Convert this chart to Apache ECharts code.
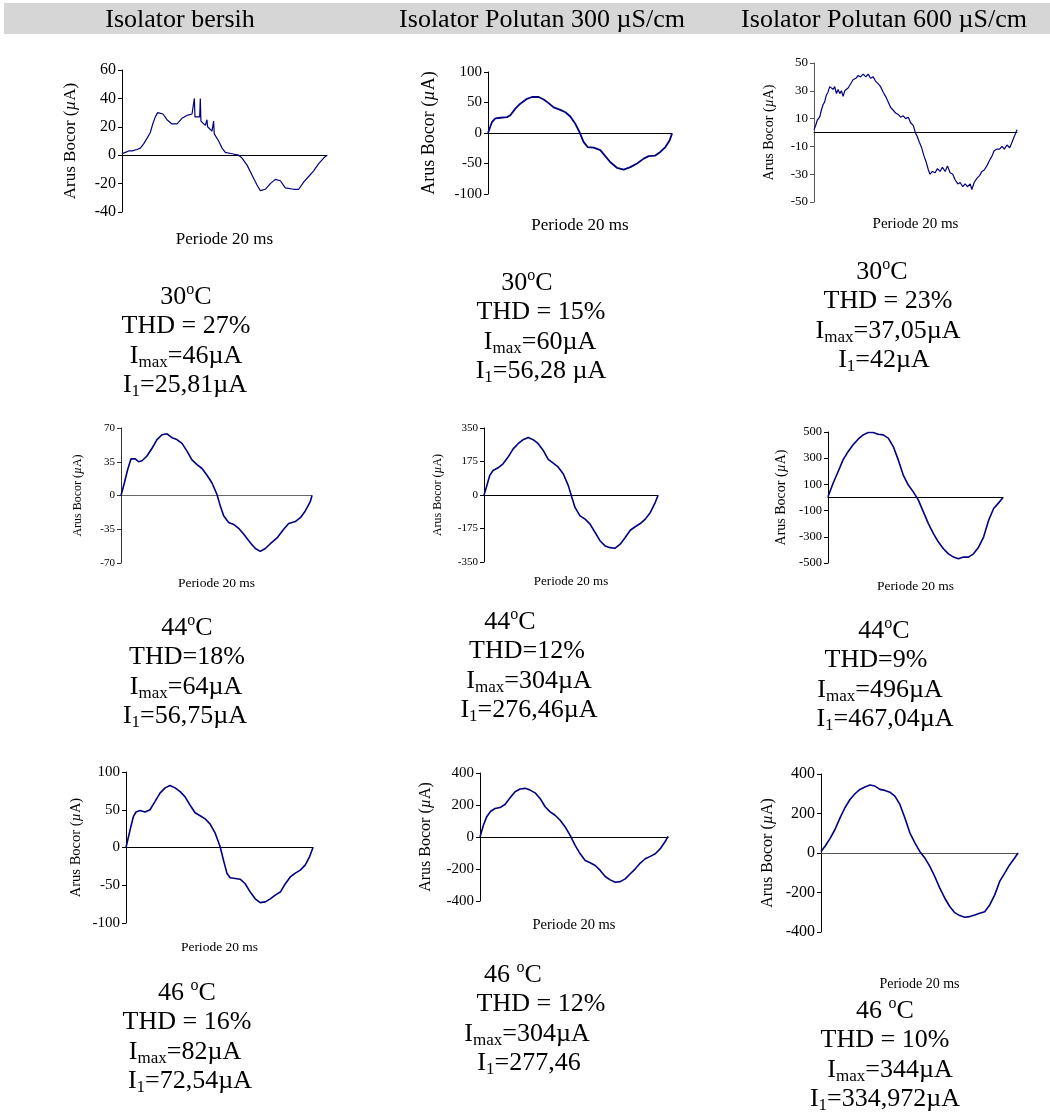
<!DOCTYPE html>
<html>
<head>
<meta charset="utf-8">
<script src="https://cdn.jsdelivr.net/npm/echarts@6/dist/echarts.min.js"></script>
<style>
  html, body { margin: 0; padding: 0; background: #fff; }
  #main { width: 1050px; height: 1115px; }
</style>
</head>
<body>
<div id="main"></div>
<script>
// teks
var FONT = 'Liberation Serif';
var headers = ['Isolator bersih', 'Isolator Polutan 300 µS/cm', 'Isolator Polutan 600 µS/cm'];
var yName = 'Arus Bocor ({i|µ}A)';
var xName = 'Periode 20 ms';

// isolator bersih 30C
var t1 = [0, 0.33, 0.65, 1.0, 1.46, 1.79, 2.11, 2.45, 2.76, 3.0, 3.25, 3.48, 4.0, 4.39, 4.88, 5.37, 5.85, 6.34, 6.83, 7.0, 7.06, 7.12, 7.58, 7.64, 7.7, 8.13, 8.29, 8.35, 8.78, 8.94, 9.0, 9.43, 9.76, 10.08, 10.73, 11.38, 11.71, 12.2, 12.68, 13.17, 13.5, 13.98, 14.47, 14.96, 15.45, 15.93, 16.75, 17.24, 17.72, 18.21, 18.7, 19.19, 19.67, 20];
var v1 = [1, 2, 3, 3, 4, 5, 8, 12, 16, 22, 27, 30, 29, 25, 22, 22, 26, 28, 29, 28, 40, 27, 27, 40, 24, 21, 25, 20, 17, 24, 15, 10, 5, 2, 1, 0, -2, -7, -14, -21, -25, -24, -20, -17, -18, -23, -24, -24, -19, -15, -11, -6, -2, 0];
var ticks1 = [-40, -20, 0, 20, 40, 60];

// polutan 300 30C
var t2 = [0, 0.43, 0.8, 1.34, 2.07, 2.43, 2.97, 3.51, 4.24, 4.78, 5.51, 6.05, 6.59, 7.14, 7.86, 8.41, 8.95, 9.49, 9.93, 10.4, 10.83, 11.49, 12.21, 12.75, 13.3, 14.02, 14.75, 15.47, 16.2, 16.92, 17.46, 18.19, 18.73, 19.28, 19.75, 20];
var v2 = [0, 18, 24, 25, 26, 29, 40, 48, 56, 59, 59, 55, 49, 42, 38, 34, 27, 15, 2, -15, -23, -24, -28, -38, -48, -57, -60, -56, -50, -42, -38, -37, -31, -23, -12, -1];
var ticks2 = [-100, -50, 0, 50, 100];

// polutan 600 30C
var t3 = [0, 0.16, 0.33, 0.56, 0.72, 0.89, 1.05, 1.22, 1.38, 1.55, 1.71, 1.88, 2.04, 2.21, 2.37, 2.54, 2.7, 2.87, 3.03, 3.2, 3.36, 3.53, 3.69, 3.85, 4.12, 4.35, 4.58, 4.84, 5.11, 5.34, 5.57, 5.83, 6.06, 6.33, 6.56, 6.82, 7.05, 7.31, 7.55, 7.81, 8.04, 8.3, 8.53, 8.8, 9.03, 9.29, 9.52, 9.79, 9.98, 10.18, 10.38, 10.61, 10.84, 11.04, 11.27, 11.43, 11.66, 11.93, 12.16, 12.42, 12.65, 12.92, 13.15, 13.41, 13.67, 13.9, 14.17, 14.4, 14.66, 14.89, 15.12, 15.39, 15.55, 15.78, 16.05, 16.31, 16.54, 16.77, 17.03, 17.3, 17.53, 17.76, 18.02, 18.29, 18.52, 18.75, 19.01, 19.28, 19.51, 19.67, 19.84, 20];
var v3 = [2, 5, 9, 11, 16, 20, 22, 27, 29, 33, 34, 31, 33, 28, 31, 28, 30, 26, 30, 29, 32, 33, 36, 38, 39, 41, 40, 42, 40, 42, 39, 40, 37, 35, 33, 29, 26, 22, 18, 16, 14, 13, 11, 12, 10, 11, 7, 5, 0, -3, -7, -11, -17, -21, -27, -30, -28, -29, -26, -28, -25, -28, -24, -29, -30, -34, -37, -36, -39, -37, -39, -37, -41, -36, -33, -31, -28, -27, -24, -20, -17, -13, -12, -12, -10, -12, -9, -11, -7, -4, -1, 2];
var ticks3 = [-50, -30, -10, 10, 30, 50];

// isolator bersih 44C
var t4 = [0, 0.35, 0.7, 1.05, 1.5, 1.85, 2.2, 2.72, 3.25, 3.77, 4.29, 4.82, 5.34, 5.86, 6.39, 6.91, 7.43, 7.96, 8.48, 9.01, 9.53, 10.05, 10.4, 10.75, 11.27, 11.8, 12.32, 12.84, 13.54, 14.07, 14.59, 15.11, 15.64, 16.34, 17.03, 17.56, 18.25, 18.78, 19.3, 19.83, 20];
var v4 = [0, 13, 27, 38, 38, 35, 36, 41, 49, 58, 63, 64, 60, 58, 54, 46, 37, 32, 28, 21, 13, 1, -11, -21, -28, -30, -34, -40, -49, -55, -58, -55, -50, -44, -35, -29, -27, -23, -16, -6, 0];
var ticks4 = [-70, -35, 0, 35, 70];

// polutan 300 44C
var t5 = [0, 0.27, 0.65, 1.04, 1.62, 2.19, 2.77, 3.35, 3.92, 4.5, 5.08, 5.65, 6.23, 6.81, 7.38, 7.96, 8.54, 9.12, 9.69, 10.08, 10.46, 11.04, 11.62, 12.19, 12.77, 13.35, 13.92, 14.5, 15.08, 15.65, 16.23, 16.81, 17.38, 17.96, 18.54, 19.12, 19.69, 20];
var v5 = [0, 40, 101, 128, 142, 163, 198, 241, 268, 289, 300, 289, 268, 233, 186, 166, 145, 110, 49, -9, -65, -109, -126, -152, -196, -240, -266, -275, -278, -257, -222, -184, -166, -149, -126, -91, -38, -3];
var ticks5 = [-350, -175, 0, 175, 350];

// polutan 600 44C
var t6 = [0, 0.57, 1.15, 1.72, 2.29, 2.87, 3.44, 4.02, 4.59, 5.16, 5.74, 6.31, 6.88, 7.46, 8.03, 8.6, 9.18, 9.75, 10.33, 10.9, 11.47, 12.05, 12.62, 13.19, 13.77, 14.34, 14.91, 15.49, 16.06, 16.63, 17.21, 17.78, 18.36, 18.93, 19.5, 20];
var v6 = [5, 107, 197, 287, 350, 402, 445, 478, 496, 496, 483, 478, 453, 389, 287, 171, 95, 43, -20, -110, -199, -276, -340, -391, -430, -455, -468, -455, -455, -430, -379, -302, -174, -84, -41, 0];
var ticks6 = [-500, -300, -100, 100, 300, 500];

// isolator bersih 46C
var t7 = [0, 0.43, 0.79, 1.07, 1.5, 2.04, 2.57, 3.11, 3.64, 4.18, 4.71, 5.25, 5.79, 6.32, 6.86, 7.39, 7.93, 8.46, 9.0, 9.54, 10.07, 10.43, 10.79, 11.14, 11.68, 12.21, 12.75, 13.29, 13.82, 14.36, 14.89, 15.43, 15.96, 16.5, 17.04, 17.57, 18.11, 18.64, 19.18, 19.64, 20];
var v7 = [0, 23, 41, 47, 49, 47, 50, 61, 72, 79, 82, 79, 74, 67, 56, 46, 42, 38, 31, 19, 1, -17, -34, -40, -41, -42, -48, -59, -68, -73, -72, -68, -63, -59, -48, -39, -34, -30, -23, -12, 0];
var ticks7 = [-100, -50, 0, 50, 100];

// polutan 300 46C
var t8 = [0, 0.36, 0.71, 1.14, 1.6, 2.13, 2.66, 3.2, 3.73, 4.26, 4.8, 5.33, 5.86, 6.39, 6.93, 7.46, 7.99, 8.53, 9.06, 9.59, 10.12, 10.66, 11.19, 11.72, 12.26, 12.79, 13.32, 13.85, 14.39, 14.92, 15.45, 15.99, 16.52, 17.05, 17.58, 18.12, 18.65, 19.18, 19.72, 20];
var v8 = [0, 73, 126, 161, 178, 184, 203, 245, 283, 300, 304, 293, 276, 241, 189, 157, 136, 105, 63, 10, -52, -105, -147, -161, -178, -209, -247, -268, -283, -279, -262, -230, -199, -163, -136, -121, -105, -73, -27, 4];
var ticks8 = [-400, -200, 0, 200, 400];

// polutan 600 46C
var t9 = [0, 0.41, 0.91, 1.42, 1.93, 2.43, 2.94, 3.45, 3.95, 4.46, 4.97, 5.47, 5.98, 6.49, 6.99, 7.5, 8.01, 8.51, 9.02, 9.53, 10.03, 10.54, 11.05, 11.55, 12.06, 12.57, 13.07, 13.58, 14.09, 14.59, 15.1, 15.61, 16.11, 16.62, 17.13, 17.64, 18.14, 18.65, 19.16, 19.66, 20];
var v9 = [8, 34, 73, 119, 178, 229, 271, 300, 322, 334, 344, 339, 322, 317, 308, 288, 246, 178, 102, 51, 8, -25, -68, -119, -178, -229, -271, -302, -317, -325, -322, -314, -305, -297, -263, -212, -144, -102, -59, -25, 0];
var ticks9 = [-400, -200, 0, 200, 400];

// keterangan tiap grafik
var notes = [
  ['30{sup|o}C', 'THD = 27%', 'I{sub|max}=46µA', 'I{sub|1}=25,81µA'],
  ['30{sup|o}C', 'THD = 15%', 'I{sub|max}=60µA', 'I{sub|1}=56,28 µA'],
  ['30{sup|o}C', 'THD = 23%', 'I{sub|max}=37,05µA', 'I{sub|1}=42µA'],
  ['44{sup|o}C', 'THD=18%', 'I{sub|max}=64µA', 'I{sub|1}=56,75µA'],
  ['44{sup|o}C', 'THD=12%', 'I{sub|max}=304µA', 'I{sub|1}=276,46µA'],
  ['44{sup|o}C', 'THD=9%', 'I{sub|max}=496µA', 'I{sub|1}=467,04µA'],
  ['46 {sup|o}C', 'THD = 16%', 'I{sub|max}=82µA', 'I{sub|1}=72,54µA'],
  ['46 {sup|o}C', 'THD = 12%', 'I{sub|max}=304µA', 'I{sub|1}=277,46'],
  ['46 {sup|o}C', 'THD = 10%', 'I{sub|max}=344µA', 'I{sub|1}=334,972µA']
];

// tata letak: kotak grid [left, top, width, height], ukuran huruf, warna garis sumbu
var panels = [
  { t: t1, v: v1, ticks: ticks1, box: [122, 70, 205, 142], fs: 16, ns: 17, gap: 43, ps: 17, pgap: 19, lw: 1.2, yc: '#000', zc: '#000' },
  { t: t2, v: v2, ticks: ticks2, box: [488, 72, 184, 122], fs: 15, ns: 18, gap: 50, ps: 17, pgap: 23, lw: 1.8, yc: '#000', zc: '#000' },
  { t: t3, v: v3, ticks: ticks3, box: [814, 63, 203, 139], fs: 13, ns: 14, gap: 38, ps: 15, pgap: 15, lw: 1.2, yc: '#555', zc: '#000' },
  { t: t4, v: v4, ticks: ticks4, box: [121, 428, 191, 135], fs: 11, ns: 12, gap: 37, ps: 13.5, pgap: 13, lw: 1.6, yc: '#333', zc: '#666' },
  { t: t5, v: v5, ticks: ticks5, box: [484, 428, 174, 134], fs: 11, ns: 12, gap: 40, ps: 13, pgap: 13, lw: 1.6, yc: '#000', zc: '#000' },
  { t: t6, v: v6, ticks: ticks6, box: [828, 432, 175, 131], fs: 12.5, ns: 14, gap: 40, ps: 13.5, pgap: 16, lw: 1.6, yc: '#000', zc: '#000' },
  { t: t7, v: v7, ticks: ticks7, box: [126, 772, 187, 151], fs: 15, ns: 14.5, gap: 42, ps: 13.5, pgap: 17, lw: 1.6, yc: '#000', zc: '#000' },
  { t: t8, v: v8, ticks: ticks8, box: [480, 773, 188, 128], fs: 15, ns: 16, gap: 46, ps: 14.5, pgap: 17, lw: 1.6, yc: '#000', zc: '#000' },
  { t: t9, v: v9, ticks: ticks9, box: [821, 774, 197, 158], fs: 16, ns: 16, gap: 45, ps: 14, pgap: 45, lw: 1.6, yc: '#000', zc: '#555' }
];

var noteLayout = [
  { y: 297, x: [186, 186, 186, 185] },
  { y: 283, x: [527, 541, 540, 541] },
  { y: 272, x: [882, 888, 888, 884] },
  { y: 628, x: [187, 187, 186, 185] },
  { y: 622, x: [510, 527, 529, 529] },
  { y: 631, x: [884, 876, 880, 885] },
  { y: 993, x: [187, 187, 185, 190] },
  { y: 975, x: [513, 541, 527, 529] },
  { y: 1011, x: [885, 885, 890, 885] }
];

var grids = [], xAxes = [], yAxes = [], series = [];
panels.forEach(function (p, i) {
  grids.push({ left: p.box[0], top: p.box[1], width: p.box[2], height: p.box[3], containLabel: false });
  // garis nol
  xAxes.push({
    gridIndex: i, type: 'value', min: 0, max: 20,
    axisLine: { show: true, onZero: true, lineStyle: { color: p.zc, width: 1 } },
    axisTick: { show: false }, axisLabel: { show: false }, splitLine: { show: false }
  });
  // judul sumbu x di bawah
  xAxes.push({
    gridIndex: i, type: 'value', min: 0, max: 20, position: 'bottom',
    axisLine: { show: false, onZero: false }, axisTick: { show: false },
    axisLabel: { show: false }, splitLine: { show: false },
    name: xName, nameLocation: 'middle', nameGap: p.pgap,
    nameTextStyle: { fontFamily: FONT, fontSize: p.ps, color: '#000' }
  });
  yAxes.push({
    gridIndex: i, type: 'value',
    min: p.ticks[0], max: p.ticks[p.ticks.length - 1],
    axisLine: { show: true, onZero: false, lineStyle: { color: p.yc, width: 1 } },
    axisTick: { show: true, length: 4, customValues: p.ticks, lineStyle: { color: p.yc } },
    axisLabel: { customValues: p.ticks, fontFamily: FONT, fontSize: p.fs, color: '#000', margin: 6 },
    splitLine: { show: false },
    name: yName, nameLocation: 'middle', nameGap: p.gap,
    nameTextStyle: {
      fontFamily: FONT, fontSize: p.ns, color: '#000',
      rich: { i: { fontFamily: FONT, fontSize: p.ns, fontStyle: 'italic', color: '#000' } }
    }
  });
  series.push({
    type: 'line', xAxisIndex: i * 2, yAxisIndex: i,
    data: p.t.map(function (x, k) { return [x, p.v[k]]; }),
    showSymbol: false, symbol: 'none', silent: true,
    lineStyle: { color: '#000080', width: p.lw }
  });
});

var richNote = {
  sub: { fontFamily: FONT, fontSize: 17, lineHeight: 14, verticalAlign: 'bottom', fill: '#000' },
  sup: { fontFamily: FONT, fontSize: 16, lineHeight: 14, verticalAlign: 'top', fill: '#000' }
};

var graphics = [
  { type: 'rect', z: -1, shape: { x: 4, y: 3, width: 1046, height: 31 }, style: { fill: '#d6d6d6' } }
];
var headX = [180, 542, 884];
headers.forEach(function (h, i) {
  graphics.push({
    type: 'text', x: headX[i], y: 20,
    style: { text: h, fontFamily: FONT, fontSize: 26, fill: '#000', align: 'center', verticalAlign: 'middle' }
  });
});
notes.forEach(function (lines, i) {
  var lay = noteLayout[i];
  lines.forEach(function (s, k) {
    graphics.push({
      type: 'text', x: lay.x[k], y: lay.y + k * 29.5,
      style: {
        text: s, fontFamily: FONT, fontSize: 26, lineHeight: 30, fill: '#000',
        align: 'center', verticalAlign: 'middle', rich: richNote
      }
    });
  });
});

var chart = echarts.init(document.getElementById('main'), null, { renderer: 'canvas' });
chart.setOption({
  backgroundColor: '#fff',
  animation: false,
  grid: grids,
  xAxis: xAxes,
  yAxis: yAxes,
  series: series,
  graphic: graphics
});
</script>
</body>
</html>
